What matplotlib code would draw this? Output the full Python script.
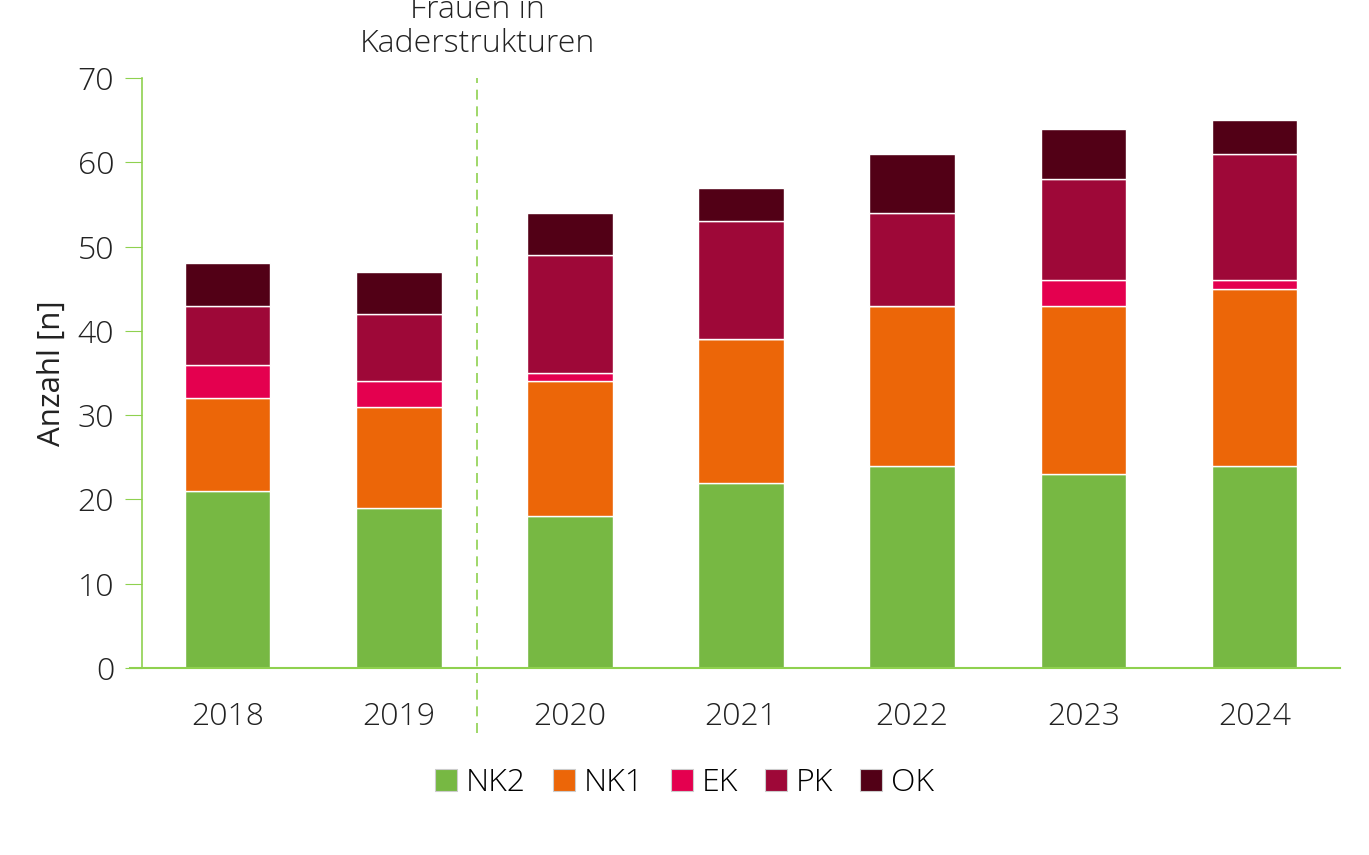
import matplotlib
matplotlib.use("Agg")
import matplotlib.pyplot as plt
import numpy as np
from matplotlib.lines import Line2D

plt.rcParams['font.family'] = ['Open Sans', 'DejaVu Sans']
plt.rcParams['font.weight'] = 'light'

years = ["2018", "2019", "2020", "2021", "2022", "2023", "2024"]
series = ["NK2", "NK1", "EK", "PK", "OK"]
NK2 = [21, 19, 18, 22, 24, 23, 24]
NK1 = [11, 12, 16, 17, 19, 20, 21]
EK = [4, 3, 1, 0, 0, 3, 1]
PK = [7, 8, 14, 14, 11, 12, 15]
OK = [5, 5, 5, 4, 7, 6, 4]
colors = ["#77b843", "#ec6608", "#e4004f", "#9e0838", "#520016"]
annotation = "Frauen in\nKaderstrukturen"

fig = plt.figure(figsize=(13.69, 8.55), dpi=100)
ax = fig.add_axes([142/1369, 1 - 668/855, (1340-142)/1369, 590/855])

x = np.arange(len(years))
bottom = np.zeros(len(years))
for name, vals, c in zip(series, [NK2, NK1, EK, PK, OK], colors):
    ax.bar(x, vals, width=0.5, bottom=bottom, color=c, edgecolor="white",
           linewidth=1, label=name, zorder=2)
    bottom += np.array(vals)

ax.set_xlim(-0.5, 6.5)
ax.set_ylim(0, 70)
ax.set_yticks(range(0, 71, 10))
ax.set_xticks(x)
ax.set_xticklabels(years)
ax.tick_params(axis='y', length=12, color="#8fd14f", labelsize=23, labelcolor="#222222", pad=8)
ax.tick_params(axis='x', length=0, labelsize=23, labelcolor="#222222", pad=24)
for s in ["top", "right", "bottom"]:
    ax.spines[s].set_visible(False)
ax.spines["left"].set_color("#8fd14f")
ax.spines["left"].set_linewidth(1.2)

# baseline
ax.add_line(Line2D([-0.5 - 12/171, 6.5], [0, 0], color="#8fd14f", lw=1.5,
                   clip_on=False, zorder=3))

# dashed separator
ax.add_line(Line2D([1.46, 1.46], [-7.7, 70], color="#8fd14f", lw=1.2,
                   linestyle=(0, (6, 4)), clip_on=False, zorder=3))
ax.text(1.46, 72.1, annotation, ha="center", va="bottom", fontsize=23,
        color="#222222", linespacing=1.1)

ax.set_ylabel("Anzahl [n]", fontsize=22.5, color="#222222", labelpad=8)

handles, labels = ax.get_legend_handles_labels()
leg = fig.legend(handles, labels, loc="center", bbox_to_anchor=(0.5, 1 - 783/855),
                 ncol=5, frameon=False, fontsize=23, handlelength=0.68, handleheight=0.68,
                 handletextpad=0.28, columnspacing=0.85)
for h in leg.legend_handles:
    h.set_edgecolor("#cccccc")
    h.set_linewidth(0.8)

fig.savefig("out.png", dpi=100)
